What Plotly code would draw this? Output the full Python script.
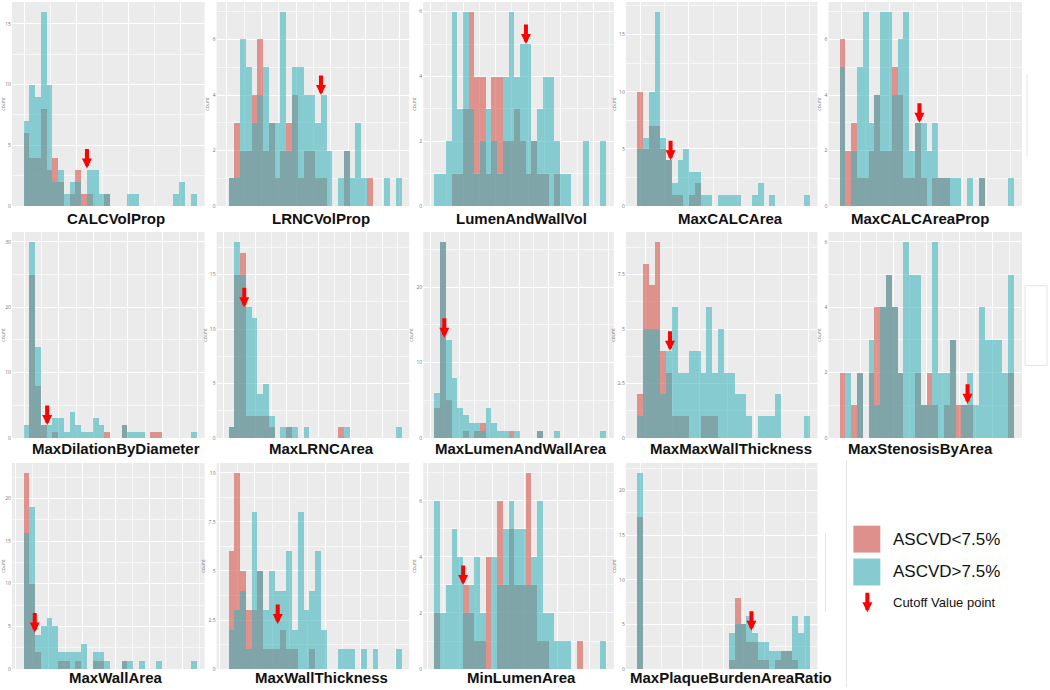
import plotly.graph_objects as go

W, H = 1050, 690

# ---------------- data (counts per bin, 30 bins) ----------------
titles = ["CALCVolProp", "LRNCVolProp", "LumenAndWallVol", "MaxCALCArea", "MaxCALCAreaProp",
          "MaxDilationByDiameter", "MaxLRNCArea", "MaxLumenAndWallArea", "MaxMaxWallThickness", "MaxStenosisByArea",
          "MaxWallArea", "MaxWallThickness", "MinLumenArea", "MaxPlaqueBurdenAreaRatio"]

low_calcvolprop = [6,4,4,8,3,4,2,0,1,3,1,1,0,0,1,0,0,0,0,0,0,0,0,0,0,0,0,0,0,0]
high_calcvolprop = [7,10,9,16,10,2,3,1,2,2,0,3,3,1,1,0,0,0,1,1,0,0,0,0,0,0,1,2,0,1]
low_lrncvolprop = [1,3,2,2,4,6,2,3,1,2,3,4,1,2,2,1,1,0,0,0,2,0,0,0,1,0,0,0,0,0]
high_lrncvolprop = [1,1,6,5,3,4,5,3,3,7,2,5,5,4,4,3,4,2,0,1,2,1,3,1,0,0,0,1,0,1]
low_lumenandwallvol = [0,0,0,1,1,3,6,4,4,1,4,4,2,2,3,2,1,2,1,1,0,1,0,0,0,0,0,0,0,0]
high_lumenandwallvol = [1,1,2,6,3,6,3,1,2,3,2,1,4,6,4,5,5,2,3,4,4,2,1,1,0,0,2,0,0,2]
low_maxcalcarea = [10,5,7,7,5,4,1,1,0,1,2,0,0,0,0,0,0,0,0,0,0,0,0,0,0,0,0,0,0,0]
high_maxcalcarea = [5,6,10,17,6,4,2,4,5,3,3,1,1,0,1,1,1,1,0,0,1,2,0,1,0,0,0,0,0,1]
low_maxcalcareaprop = [6,2,3,1,1,2,4,2,2,5,4,1,1,3,1,0,1,1,1,0,0,0,0,0,1,0,0,0,0,0]
high_maxcalcareaprop = [5,0,2,5,7,3,4,7,7,4,6,7,2,3,3,2,3,1,1,1,1,0,1,0,1,0,0,0,0,1]
low_maxdilation = [0,25,8,2,0,1,0,0,0,0,0,0,0,0,1,0,0,2,0,0,0,0,1,1,0,0,0,0,0,0]
high_maxdilation = [2,30,14,2,2,3,3,1,4,2,1,1,3,2,0,0,0,2,1,1,1,0,0,0,0,0,0,0,0,1]
low_maxlrncarea = [1,15,17,2,2,2,2,1,0,0,1,0,0,0,0,0,0,0,0,1,0,0,0,0,0,0,0,0,0,0]
high_maxlrncarea = [1,18,15,12,11,4,5,2,0,1,1,1,0,1,0,0,0,0,0,0,1,0,0,0,0,0,0,0,0,1]
low_maxlumenwallarea = [4,26,5,0,0,1,0,1,2,0,0,0,0,1,0,0,0,0,1,0,0,0,0,0,0,0,0,0,0,0]
high_maxlumenwallarea = [6,26,13,8,4,3,2,2,1,4,2,1,1,0,1,0,0,0,1,0,0,1,0,0,0,0,0,0,0,1]
low_maxmaxwallthick = [2,8,7,9,4,3,1,1,1,0,0,1,1,1,0,0,0,0,0,0,0,0,0,0,0,0,0,0,0,0]
high_maxmaxwallthick = [1,5,5,5,2,4,6,3,3,4,4,3,6,3,5,3,3,2,2,1,0,1,1,1,2,0,0,0,0,1]
low_maxstenosis = [2,0,1,2,0,2,4,4,5,4,2,0,0,2,1,2,1,0,1,3,1,1,1,0,0,0,0,0,0,2]
high_maxstenosis = [0,2,0,2,0,3,1,4,5,4,2,6,5,5,1,1,6,2,2,3,0,1,2,1,4,3,3,3,2,5]
low_maxwallarea = [23,10,2,0,0,0,1,1,0,1,0,0,1,1,0,0,0,1,0,0,0,0,0,0,0,0,0,0,0,0]
high_maxwallarea = [16,19,4,5,6,5,2,2,2,2,3,0,2,2,1,0,0,1,1,0,1,0,0,1,0,0,0,0,0,1]
low_maxwallthick = [6,10,5,3,3,5,1,1,1,2,1,1,0,0,1,0,0,0,0,0,0,0,0,0,0,0,0,0,0,0]
high_maxwallthick = [2,3,4,1,8,5,3,5,4,4,6,2,8,3,4,6,2,0,0,1,1,1,0,1,0,1,0,0,0,1]
low_minlumenarea = [2,0,0,0,0,3,2,1,1,4,0,6,3,5,3,3,7,3,1,1,0,0,0,0,0,1,0,0,0,0]
high_minlumenarea = [6,2,3,5,4,2,3,4,2,0,4,3,5,6,5,5,3,4,6,2,2,1,1,1,0,0,0,0,0,1]
low_maxplaqueburden = [17,0,0,0,0,0,0,0,0,0,0,0,0,0,0,0,1,8,5,3,3,1,1,0,1,2,2,1,0,0]
high_maxplaqueburden = [22,0,0,0,0,0,0,0,0,0,0,0,0,0,0,0,4,5,5,6,4,3,3,2,2,2,2,6,4,6]

low_series = [low_calcvolprop, low_lrncvolprop, low_lumenandwallvol, low_maxcalcarea, low_maxcalcareaprop,
              low_maxdilation, low_maxlrncarea, low_maxlumenwallarea, low_maxmaxwallthick, low_maxstenosis,
              low_maxwallarea, low_maxwallthick, low_minlumenarea, low_maxplaqueburden]
high_series = [high_calcvolprop, high_lrncvolprop, high_lumenandwallvol, high_maxcalcarea, high_maxcalcareaprop,
               high_maxdilation, high_maxlrncarea, high_maxlumenwallarea, high_maxmaxwallthick, high_maxstenosis,
               high_maxwallarea, high_maxwallthick, high_minlumenarea, high_maxplaqueburden]

# cutoff arrows: bin position and count at the arrow tip
cutoff_bin = [11.0, 16.1, 16.0, 5.8, 13.7, 4.1, 2.8, 1.7, 5.7, 22.0, 1.95, 8.6, 5.0, 19.9]
cutoff_count = [3.1, 4.0, 5.0, 4.0, 3.0, 2.0, 12.0, 13.3, 4.0, 1.05, 4.3, 2.3, 3.0, 4.3]

# y tick spacing
y_dtick = [5, 2, 2, 5, 2, 10, 5, 10, 2.5, 2, 5, 2.5, 2, 5]
# x grid (start, step) in bin units
x_grid = [(0.2, 9), (-0.2, 6), (5.0, 5.7), (0.6, 8.4), (0.3, 8.3), (0.1, 6), (-0.8, 5.5), (-0.8, 5.2),
          (1.4, 9.5), (3.5, 5.7), (4.4, 5.8), (4.6, 6.1), (-1.3, 5.7), (0.6, 7.2)]

legend_labels = ["ASCVD<7.5%", "ASCVD>7.5%", "Cutoff Value point"]

# ---------------- styling ----------------
LOW_C = "rgba(213,80,71,0.58)"
HIGH_C = "rgba(59,180,187,0.58)"
LOW_KEY = "rgb(222,145,140)"
HIGH_KEY = "rgb(133,203,207)"
BG = "#EBEBEB"

cols_x = [(10, 203), (215, 408), (422, 613), (625, 817), (828, 1022)]
rows_y = [(2, 207), (233, 440), (465, 672)]
title_cx = [114, 320, 520, 730, 920]
title_y = [219, 450, 680]

def px(x):
    return x / W

def py(y):
    return 1 - y / H

fig = go.Figure()
annotations = []
shapes = []
layout = {}

centers = [i + 0.5 for i in range(30)]
ARROW = dict(showarrow=True, ax=0, ay=-21, arrowhead=2, arrowsize=0.5, arrowwidth=4,
             arrowcolor="#FF0000", standoff=0, text="")

for k in range(14):
    r, c = divmod(k, 5)
    n = k + 1
    xa = "x" if n == 1 else f"x{n}"
    ya = "y" if n == 1 else f"y{n}"
    fig.add_trace(go.Bar(x=centers, y=low_series[k], width=1, marker=dict(color=LOW_C, line=dict(width=0)),
                         xaxis=xa, yaxis=ya, showlegend=False, hoverinfo="skip"))
    fig.add_trace(go.Bar(x=centers, y=high_series[k], width=1, marker=dict(color=HIGH_C, line=dict(width=0)),
                         xaxis=xa, yaxis=ya, showlegend=False, hoverinfo="skip"))
    x0, x1 = cols_x[c]
    y0, y1 = rows_y[r]
    ymax = max(max(low_series[k]), max(high_series[k])) * 1.05
    gs, gstep = x_grid[k]
    layout[f"xaxis{n}"] = dict(domain=[px(x0), px(x1)], anchor=ya, range=[-2.0, 31.4],
                               showticklabels=False, ticks="", tickmode="linear", tick0=gs, dtick=gstep,
                               showgrid=True, gridcolor="white", gridwidth=1, zeroline=False, showline=False,
                               minor=dict(tick0=gs + gstep / 2, dtick=gstep, showgrid=True,
                                          gridcolor="rgba(255,255,255,0.6)", gridwidth=0.5),
                               fixedrange=True)
    layout[f"yaxis{n}"] = dict(domain=[py(y1), py(y0)], anchor=xa, range=[0, ymax],
                               tickmode="linear", tick0=0, dtick=y_dtick[k], ticks="",
                               tickfont=dict(size=5, color="#777777"), showgrid=True, gridcolor="white",
                               gridwidth=1, zeroline=False, showline=False,
                               minor=dict(tick0=y_dtick[k] / 2, dtick=y_dtick[k], showgrid=True,
                                          gridcolor="rgba(255,255,255,0.6)", gridwidth=0.5),
                               title=dict(text="count", font=dict(size=5, color="#777777"), standoff=2),
                               fixedrange=True)
    annotations.append(dict(text=titles[k], x=px(title_cx[c]), y=py(title_y[r]), xref="paper", yref="paper",
                            showarrow=False, xanchor="center", yanchor="middle",
                            font=dict(family="Liberation Sans, Arial, sans-serif", size=15, color="#111111",
                                      weight="bold")))
    annotations.append(dict(x=cutoff_bin[k], y=cutoff_count[k], xref=xa, yref=ya, **ARROW))

# ---------------- legend (drawn manually) ----------------
shapes.append(dict(type="rect", xref="paper", yref="paper", x0=px(853), x1=px(880), y0=py(555), y1=py(528),
                   fillcolor=LOW_KEY, line=dict(width=0)))
shapes.append(dict(type="rect", xref="paper", yref="paper", x0=px(853), x1=px(880), y0=py(588), y1=py(561),
                   fillcolor=HIGH_KEY, line=dict(width=0)))
annotations.append(dict(text=legend_labels[0], x=px(891), y=py(542), xref="paper", yref="paper", showarrow=False,
                        xanchor="left", yanchor="middle",
                        font=dict(family="Liberation Sans, Arial, sans-serif", size=17, color="#111111")))
annotations.append(dict(text=legend_labels[1], x=px(891), y=py(574), xref="paper", yref="paper", showarrow=False,
                        xanchor="left", yanchor="middle",
                        font=dict(family="Liberation Sans, Arial, sans-serif", size=17, color="#111111")))
annotations.append(dict(x=px(867), y=py(615), xref="paper", yref="paper", **ARROW))
annotations.append(dict(text=legend_labels[2], x=px(891), y=py(605), xref="paper", yref="paper", showarrow=False,
                        xanchor="left", yanchor="middle",
                        font=dict(family="Liberation Sans, Arial, sans-serif", size=13, color="#111111")))

# faint remnants of frames on the right side
for (xa_, ya0, ya1) in [(1027, 75, 157), (825, 535, 615), (846, 462, 690)]:
    shapes.append(dict(type="line", xref="paper", yref="paper", x0=px(xa_), x1=px(xa_), y0=py(ya0), y1=py(ya1),
                       line=dict(color="#E4E4E4", width=1)))
shapes.append(dict(type="rect", xref="paper", yref="paper", x0=px(1025), x1=px(1047), y0=py(367), y1=py(287),
                   line=dict(color="#E4E4E4", width=1)))

fig.update_layout(
    width=W, height=H, margin=dict(l=0, r=0, t=0, b=0),
    paper_bgcolor="white", plot_bgcolor=BG, barmode="overlay", bargap=0,
    annotations=annotations, shapes=shapes, showlegend=False,
    **layout,
)

fig.write_html("out.html", config={"displayModeBar": False},
               post_script="document.body.style.margin='0';document.body.style.overflow='hidden';")
